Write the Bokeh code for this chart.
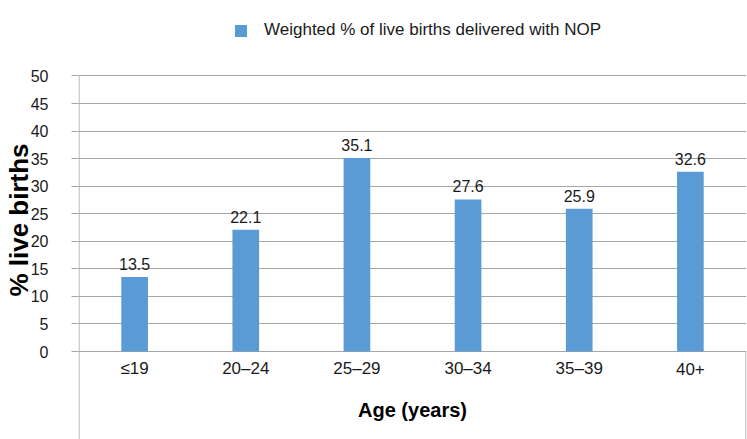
from bokeh.plotting import figure
from bokeh.models import Range1d, FixedTicker, ColumnDataSource, Label
from bokeh.core.properties import value
from bokeh.embed import file_html
from bokeh.resources import INLINE

# Data
categories = ["\u226419", "20\u201324", "25\u201329", "30\u201334", "35\u201339", "40+"]
values = [13.5, 22.1, 35.1, 27.6, 25.9, 32.6]
value_labels = ["13.5", "22.1", "35.1", "27.6", "25.9", "32.6"]
y_ticks = [0, 5, 10, 15, 20, 25, 30, 35, 40, 45, 50]
series_name = "Weighted % of live births delivered with NOP"
x_title = "Age (years)"
y_title = "% live births"

FONT = "Liberation Sans"
BAR = "#5B9BD5"
GRID = "#A6A6A6"
TXT = "#1a1a1a"

n = len(categories)
xs = [i + 0.5 for i in range(n)]
y_start, y_end = -15.97, 63.70
y_max = y_ticks[-1]

src = ColumnDataSource(dict(x=xs, top=values, cat=categories, lab=value_labels,
                            zero=[0] * n))

p = figure(width=747, height=439, output_backend="svg", toolbar_location=None,
           x_range=Range1d(-0.005, n + 0.005), y_range=Range1d(y_start, y_end),
           min_border_left=72, min_border_right=1, min_border_top=0,
           min_border_bottom=0)
p.outline_line_color = None
p.background_fill_color = "white"
p.border_fill_color = "white"

r = p.vbar(x="x", top="top", width=0.24, source=src, fill_color=BAR,
           line_color=None, legend_label=series_name)

# value labels
p.text(x="x", y="top", text="lab", source=src, text_align="center",
       text_baseline="alphabetic", y_offset=-13, text_font=value(FONT),
       text_font_size="16px", text_color=TXT)

# category labels
p.text(x="x", y="zero", text="cat", source=src, text_align="center",
       text_baseline="alphabetic", y_offset=17, text_font=value(FONT),
       text_font_size="17px", text_color=TXT)

# y-axis line (from top tick down to bottom) and right edge of category box
p.segment(x0=[0, n], y0=[y_max, 0], x1=[0, n], y1=[y_start, y_start],
          line_color=GRID, line_width=1)

# axes
p.xaxis.visible = False
p.xgrid.visible = False
p.yaxis.ticker = FixedTicker(ticks=y_ticks)
p.ygrid.ticker = FixedTicker(ticks=y_ticks)
p.ygrid.grid_line_color = GRID
p.ygrid.grid_line_width = 1
yax = p.yaxis[0]
yax.axis_line_color = None
yax.major_tick_line_color = GRID
yax.major_tick_out = 7
yax.major_tick_in = 0
yax.minor_tick_line_color = None
yax.major_label_standoff = 23
yax.major_label_text_font = FONT
yax.major_label_text_font_size = "16px"
yax.major_label_text_color = TXT
yax.axis_label = y_title
yax.axis_label_text_font = FONT
yax.axis_label_text_font_size = "26px"
yax.axis_label_text_font_style = "bold"
yax.axis_label_text_color = "black"
yax.axis_label_standoff = -6

# x title
p.add_layout(Label(x=n / 2, y=-10.7, text=x_title, text_align="center",
                   text_baseline="alphabetic", text_font=FONT,
                   text_font_size="20px", text_font_style="bold",
                   text_color="black"))

# legend
leg = p.legend[0]
leg.location = (155, 399)
leg.orientation = "horizontal"
leg.border_line_color = None
leg.background_fill_alpha = 0
leg.padding = 0
leg.margin = 0
leg.glyph_width = 15
leg.glyph_height = 15
leg.label_standoff = 16
leg.label_text_font = FONT
leg.label_text_font_size = "17px"
leg.label_text_color = TXT

open("out.html", "w").write(file_html(p, INLINE))
